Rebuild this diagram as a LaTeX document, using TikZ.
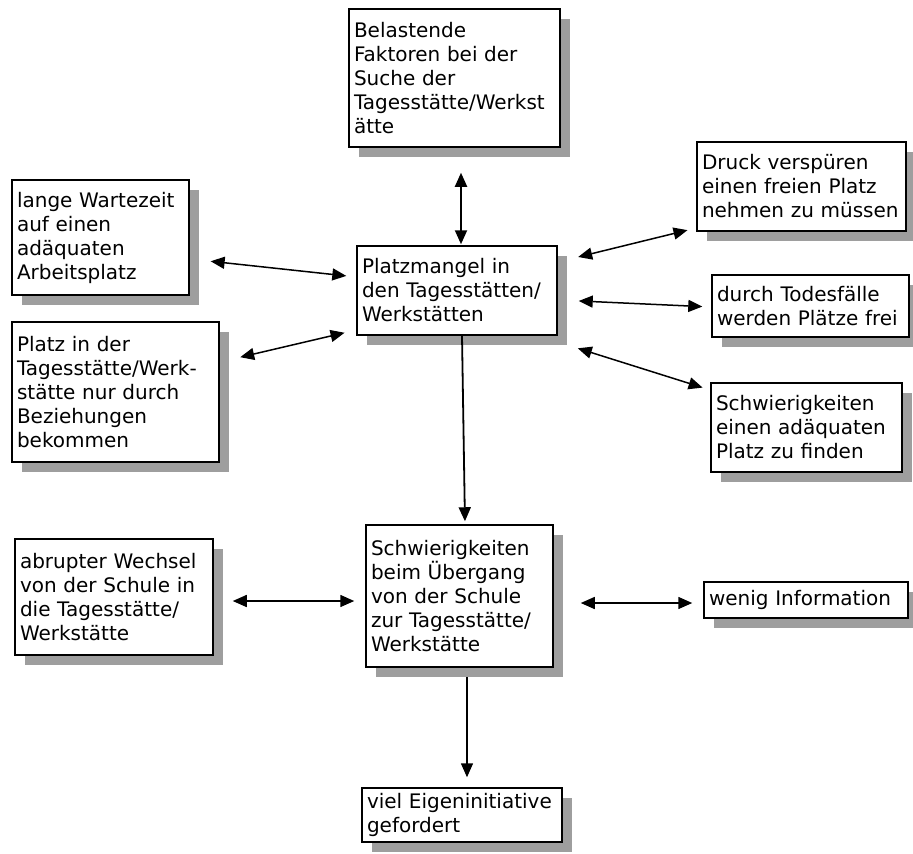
\documentclass[tikz,border=0pt]{standalone}
\usepackage{fontspec}
\setmainfont{DejaVu Sans}
\usetikzlibrary{arrows.meta,shadows}
\begin{document}
\begin{tikzpicture}[x=1pt,y=-1pt,
    kasten/.style 2 args={draw=black, line width=1.5pt, fill=white, inner xsep=5pt, inner ysep=3pt,
      text width=#1, minimum height=#2, align=left, font=\fontsize{20}{24}\selectfont,
      drop shadow={shadow xshift=10pt, shadow yshift=-10pt, fill=black!38, opacity=1}},
    >={Triangle[length=14pt,width=12pt]}]
  \useasboundingbox (0,0) rectangle (913,854);

  \node [kasten={201pt}{138pt}] (belast) at (454.5,78) {Belastende\\Faktoren bei der\\Suche der\\Tagesstätte/Werkst\\ätte};
  \node [kasten={199pt}{89pt}] (druck) at (801.5,186.5) {Druck verspüren\\einen freien Platz\\nehmen zu müssen};
  \node [kasten={167pt}{115pt}] (warte) at (100.5,237.5) {lange Wartezeit\\auf einen\\adäquaten\\Arbeitsplatz};
  \node [kasten={190pt}{89pt}] (mangel) at (457,290.5) {Platzmangel in\\den Tagesstätten/\\Werkstätten};
  \node [kasten={187pt}{62pt}] (tod) at (810.5,306) {durch Todesfälle\\werden Plätze frei};
  \node [kasten={197pt}{140pt}] (bezieh) at (115.5,392) {Platz in der\\Tagesstätte/Werk-\\stätte nur durch\\Beziehungen\\bekommen};
  \node [kasten={181pt}{89pt}] (finden) at (806.5,427.5) {Schwierigkeiten\\einen adäquaten\\Platz zu finden};
  \node [kasten={188pt}{116pt}] (wechsel) at (114,597) {abrupter Wechsel\\von der Schule in\\die Tagesstätte/\\Werkstätte};
  \node [kasten={177pt}{142pt}] (ueber) at (459.5,596) {Schwierigkeiten\\beim Übergang\\von der Schule\\zur Tagesstätte/\\Werkstätte};
  \node [kasten={194pt}{36pt}] (info) at (806,600) {wenig Information};
  \node [kasten={190pt}{54pt}] (eigen) at (462,815) {viel Eigeninitiative\\gefordert};

  \draw[<->, line width=2pt, shorten <= 25pt, shorten >= 1pt] ([xshift=6.5pt]belast.south) -- ([xshift=4pt]mangel.north);
  \draw[<->, line width=1.5pt, shorten <= 21pt, shorten >= 9pt] ([yshift=28.5pt]mangel.east) -- ([yshift=-41.5pt]druck.west);
  \draw[<->, line width=1.5pt, shorten <= 21pt, shorten >= 9pt] ([yshift=-9.5pt]mangel.east) -- ([yshift=-1pt]tod.west);
  \draw[<->, line width=1.5pt, shorten <= 21pt, shorten >= 8pt] ([yshift=-51.5pt]mangel.east) -- ([yshift=37.5pt]finden.west);
  \draw[<->, line width=1.5pt, shorten <= 21pt, shorten >= 10pt] ([yshift=-21.5pt]warte.east) -- ([yshift=13.5pt]mangel.west);
  \draw[<->, line width=1.5pt, shorten <= 21pt, shorten >= 12pt] ([yshift=30pt]bezieh.east) -- ([yshift=-39.5pt]mangel.west);
  \draw[->, line width=1.8pt, shorten >= 3pt] ([xshift=5pt]mangel.south) -- ([xshift=5.5pt]ueber.north);
  \draw[<->, line width=1.5pt, shorten <= 19pt, shorten >= 11pt] ([yshift=-4pt]wechsel.east) -- ([yshift=-5pt]ueber.west);
  \draw[<->, line width=1.5pt, shorten <= 27pt, shorten >= 11pt] ([yshift=-7pt]ueber.east) -- ([yshift=-3pt]info.west);
  \draw[->, line width=1.5pt, shorten <= 9pt, shorten >= 10pt] ([xshift=7.5pt]ueber.south) -- ([xshift=5pt]eigen.north);
\end{tikzpicture}
\end{document}
